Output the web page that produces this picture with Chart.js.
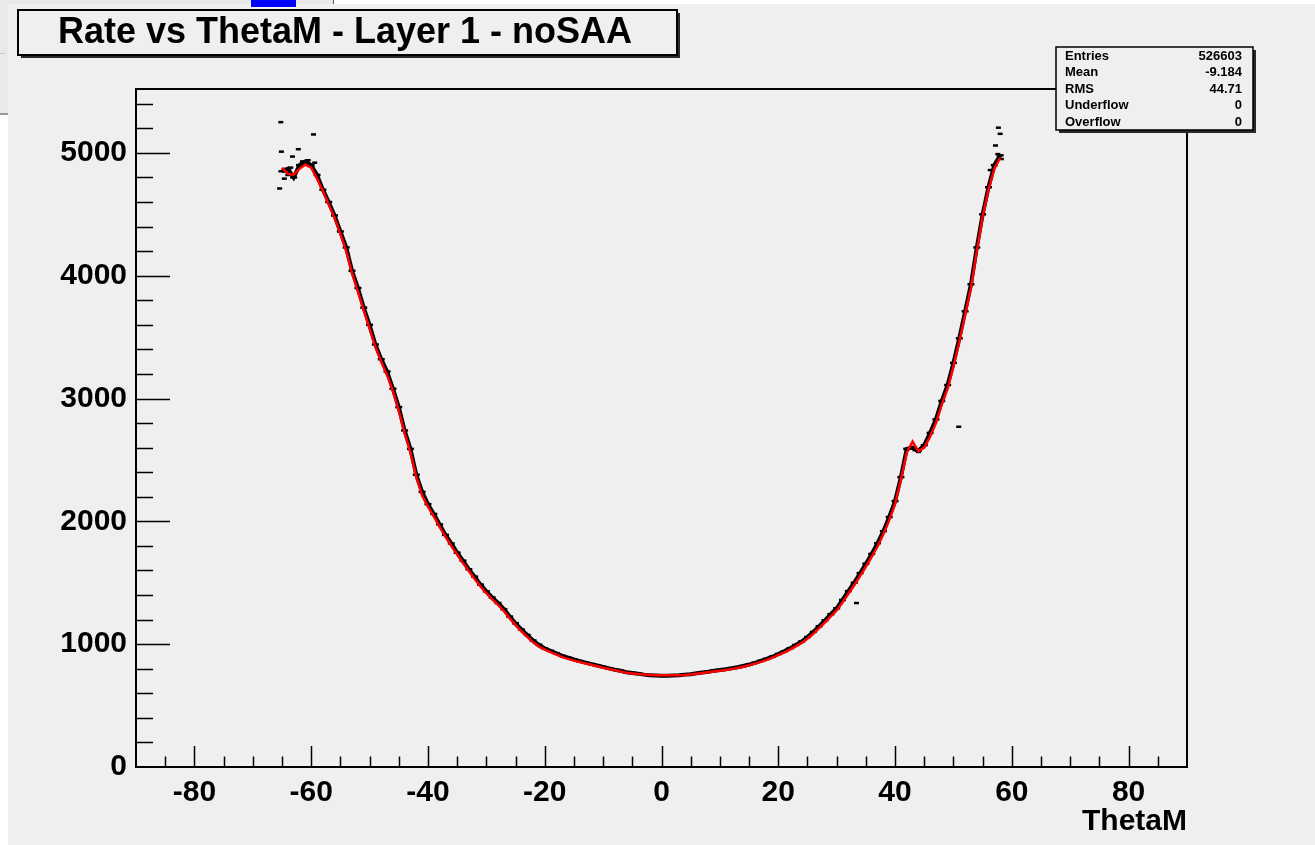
<!DOCTYPE html>
<html>
<head>
<meta charset="utf-8">
<title>Rate vs ThetaM - Layer 1 - noSAA</title>
<script src="https://cdn.jsdelivr.net/npm/chart.js@4.4.1/dist/chart.umd.min.js"></script>
<style>
    html, body { margin: 0; padding: 0; background: #ffffff; }
    #wrap { position: relative; width: 1315px; height: 845px; }
</style>
</head>
<body>
<div id="wrap"><canvas id="rateChart" width="1315" height="845"></canvas></div>
<script>
// ThetaM bin centres (deg)
const thetaBins = [
    -65, -64, -63, -62, -61, -60, -59, -58, -57, -56, -55, -54, -53, -52, -51, -50,
    -49, -48, -47, -46, -45, -44, -43, -42, -41, -40, -39, -38, -37, -36, -35, -34,
    -33, -32, -31, -30, -29, -28, -27, -26, -25, -24, -23, -22, -21, -20, -19, -18,
    -17, -16, -15, -14, -13, -12, -11, -10, -9, -8, -7, -6, -5, -4, -3, -2,
    -1, 0, 1, 2, 3, 4, 5, 6, 7, 8, 9, 10, 11, 12, 13, 14,
    15, 16, 17, 18, 19, 20, 21, 22, 23, 24, 25, 26, 27, 28, 29, 30,
    31, 32, 33, 34, 35, 36, 37, 38, 39, 40, 41, 42, 43, 44, 45, 46,
    47, 48, 49, 50, 51, 52, 53, 54, 55, 56, 57, 58
];

// red curve
const fitRate = [
    4880, 4830, 4820, 4870, 4905, 4880, 4790, 4690, 4580, 4470, 4340, 4200, 4020, 3870, 3720, 3570,
    3420, 3300, 3190, 3060, 2900, 2720, 2560, 2360, 2210, 2120, 2040, 1955, 1875, 1800, 1730, 1660,
    1595, 1530, 1470, 1415, 1365, 1320, 1270, 1210, 1155, 1105, 1060, 1015, 980, 955, 935, 915,
    895, 880, 866, 855, 843, 832, 820, 808, 798, 788, 778, 768, 762, 757, 753, 750,
    748, 747, 747, 747, 748, 750, 754, 759, 765, 771, 778, 784, 790, 798, 806, 816,
    828, 842, 856, 872, 890, 910, 932, 956, 982, 1010, 1045, 1085, 1130, 1178, 1226, 1275,
    1340, 1410, 1480, 1555, 1630, 1710, 1795, 1895, 2010, 2140, 2340, 2560, 2650, 2570, 2600, 2690,
    2800, 2950, 3080, 3260, 3460, 3680, 3900, 4200, 4480, 4700, 4870, 4960
];

// black profile points
const profileRate = [
    4850, 4870, 4800, 4900, 4930, 4900, 4820, 4700, 4600, 4490, 4360, 4230, 4040, 3900, 3740, 3600,
    3440, 3320, 3220, 3080, 2930, 2740, 2590, 2380, 2240, 2140, 2060, 1975, 1890, 1820, 1745, 1680,
    1610, 1550, 1485, 1430, 1380, 1335, 1285, 1225, 1170, 1120, 1075, 1030, 995, 965, 945, 925,
    905, 890, 875, 862, 850, 838, 826, 815, 803, 792, 783, 772, 766, 760, 752, 746,
    744, 742, 743, 745, 747, 752, 756, 763, 770, 776, 784, 790, 796, 804, 812, 822,
    834, 848, 864, 880, 898, 920, 942, 966, 994, 1022, 1058, 1100, 1146, 1194, 1244, 1292,
    1360, 1432, 1500, 1578, 1655, 1735, 1822, 1920, 2035, 2165, 2360, 2590, 2600, 2575, 2620, 2720,
    2830, 2980, 3110, 3290, 3490, 3710, 3930, 4230, 4500, 4720, 4900, 4980
];

// isolated points away from the curve
const strayTheta = [-65.2, -59.6, -65.1, -63.2, -62.2, -61.5, -60.5, -59.4, -65.4, -64.6, -64.0, -63.5,
    33.4, 50.9, 57.7, 58.0, 57.2, 57.6, 58.2, 56.3, 43.4, 44.0];
const strayRate = [5250, 5150, 5010, 4970, 5030, 4930, 4940, 4920, 4710, 4790, 4820, 4880,
    1335, 2770, 5205, 5155, 5060, 4990, 4950, 4860, 2580, 2565];

const xMajorTicks = [-80, -60, -40, -20, 0, 20, 40, 60, 80];
const yMajorTicks = [0, 1000, 2000, 3000, 4000, 5000];

const statsLabels = ['Entries', 'Mean', 'RMS', 'Underflow', 'Overflow'];
const statsValues = ['526603', '-9.184', '44.71', '0', '0'];

const titleText = 'Rate vs ThetaM - Layer 1 - noSAA';
const xTitle = 'ThetaM';

const FONT = "'Liberation Sans', Arial, Helvetica, sans-serif";

function toPoints(xs, ys) {
    return xs.map((x, i) => ({ x: x, y: ys[i] }));
}

// ROOT style frame: background, inward ticks, title box, stats box
const rootFrame = {
    id: 'rootFrame',
    beforeDraw(chart) {
        const ctx = chart.ctx;
        ctx.save();
        ctx.fillStyle = '#ffffff';
        ctx.fillRect(0, 0, chart.width, chart.height);
        // window bits behind the pad
        ctx.fillStyle = '#e9e9e9';
        ctx.fillRect(0, 0, 333, 4);
        ctx.fillRect(0, 4, 8, 110);
        ctx.fillStyle = '#555';
        ctx.fillRect(333, 0, 1, 5);
        ctx.fillStyle = '#999';
        ctx.fillRect(0, 113, 8, 2);
        ctx.fillStyle = '#c8c8c8';
        ctx.fillRect(0, 53, 5, 1);
        // pad
        ctx.fillStyle = '#efefef';
        ctx.fillRect(8, 4, chart.width - 8, chart.height - 4);
        ctx.fillStyle = '#0000ff';
        ctx.fillRect(251, 0, 45, 7);
        ctx.restore();
    },
    afterDatasetsDraw(chart) {
        const ctx = chart.ctx;
        const xs = chart.scales.x, ys = chart.scales.y;
        const { left, right, top, bottom } = chart.chartArea;
        ctx.save();
        ctx.strokeStyle = '#000';
        ctx.lineWidth = 1.5;
        ctx.beginPath();
        for (let v = -85; v <= 85; v += 5) {
            const px = Math.round(xs.getPixelForValue(v)) + 0.5;
            const len = xMajorTicks.includes(v) ? 21 : 10.5;
            ctx.moveTo(px, bottom);
            ctx.lineTo(px, bottom - len);
        }
        for (let v = 200; v <= 5400; v += 200) {
            const py = Math.round(ys.getPixelForValue(v)) + 0.5;
            const len = yMajorTicks.includes(v) ? 34 : 17;
            ctx.moveTo(left, py);
            ctx.lineTo(left + len, py);
        }
        ctx.stroke();
        ctx.lineWidth = 2;
        ctx.strokeRect(left, top, right - left, bottom - top);
        ctx.restore();
    },
    afterDraw(chart) {
        const ctx = chart.ctx;
        ctx.save();
        // title box
        ctx.fillStyle = '#2a2a2a';
        ctx.fillRect(21, 13, 659, 45);
        ctx.fillStyle = '#efefef';
        ctx.fillRect(18, 10, 659, 45);
        ctx.strokeStyle = '#000';
        ctx.lineWidth = 2;
        ctx.strokeRect(18, 10, 659, 45);
        ctx.fillStyle = '#000';
        ctx.font = 'bold 36px ' + FONT;
        ctx.textAlign = 'center';
        ctx.textBaseline = 'middle';
        ctx.fillText(titleText, 345, 33);

        // stats box
        ctx.fillStyle = '#2a2a2a';
        ctx.fillRect(1059, 50, 197, 83);
        ctx.fillStyle = '#efefef';
        ctx.fillRect(1056, 47, 197, 83);
        ctx.lineWidth = 1.5;
        ctx.strokeRect(1056, 47, 197, 83);
        ctx.fillStyle = '#000';
        ctx.font = 'bold 13px ' + FONT;
        const rowY = [56, 72, 89, 105, 122];
        statsLabels.forEach((lab, i) => {
            ctx.textAlign = 'left';
            ctx.fillText(lab, 1065, rowY[i]);
            ctx.textAlign = 'right';
            ctx.fillText(statsValues[i], 1242, rowY[i]);
        });
        ctx.restore();
    }
};

const ctx = document.getElementById('rateChart');
new Chart(ctx, {
    type: 'scatter',
    data: {
        datasets: [
            {
                label: 'fit',
                data: toPoints(thetaBins, fitRate),
                showLine: true,
                borderColor: '#ff0000',
                borderWidth: 2.5,
                pointRadius: 0,
                tension: 0
            },
            {
                label: 'profile',
                data: toPoints(thetaBins, profileRate),
                showLine: true,
                borderColor: '#000000',
                backgroundColor: '#000000',
                borderWidth: 4,
                pointStyle: 'line',
                pointRadius: 3.5,
                pointBorderWidth: 2.5,
                tension: 0
            },
            {
                label: 'stray',
                data: toPoints(strayTheta, strayRate),
                showLine: false,
                borderColor: '#000000',
                backgroundColor: '#000000',
                pointStyle: 'line',
                pointRadius: 2.5,
                pointBorderWidth: 2.5
            }
        ]
    },
    options: {
        responsive: false,
        animation: false,
        devicePixelRatio: 1,
        layout: { padding: { top: 89, right: 128, left: 0, bottom: 0 } },
        plugins: {
            legend: { display: false },
            tooltip: { enabled: false },
            title: { display: false }
        },
        scales: {
            x: {
                type: 'linear',
                min: -90,
                max: 90,
                border: { display: false },
                grid: { display: false, drawTicks: false },
                afterBuildTicks: function (scale) {
                    scale.ticks = xMajorTicks.map(v => ({ value: v }));
                },
                ticks: {
                    padding: 8,
                    color: '#000',
                    maxRotation: 0,
                    autoSkip: false,
                    callback: v => String(v),
                    font: { family: FONT, size: 30, weight: 'bold' }
                },
                title: {
                    display: true,
                    text: xTitle,
                    align: 'end',
                    color: '#000',
                    padding: { top: 0, bottom: 5 },
                    font: { family: FONT, size: 30, weight: 'bold' }
                },
                afterFit: function (scale) { scale.height = 78; }
            },
            y: {
                type: 'linear',
                min: 0,
                max: 5520,
                border: { display: false },
                grid: { display: false, drawTicks: false },
                afterBuildTicks: function (scale) {
                    scale.ticks = yMajorTicks.map(v => ({ value: v }));
                },
                ticks: {
                    padding: 9,
                    color: '#000',
                    autoSkip: false,
                    callback: v => String(v),
                    font: { family: FONT, size: 30, weight: 'bold' }
                },
                afterFit: function (scale) { scale.width = 136; }
            }
        }
    },
    plugins: [rootFrame]
});
</script>
</body>
</html>
